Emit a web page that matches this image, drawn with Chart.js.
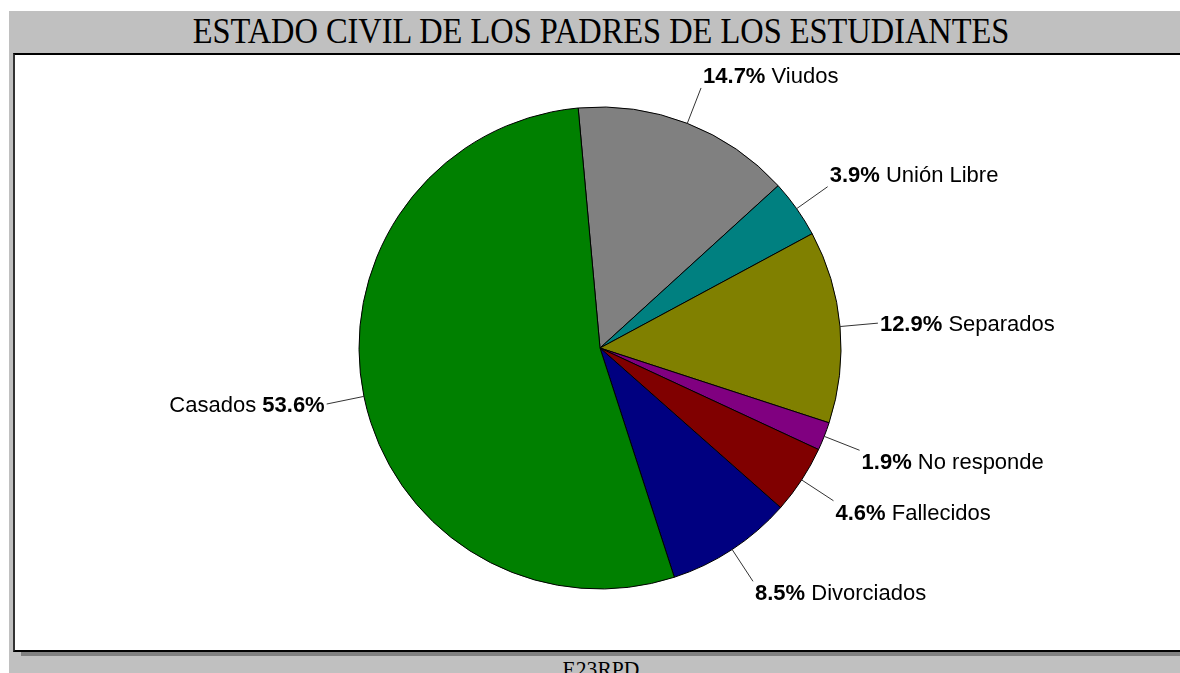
<!DOCTYPE html>
<html>
<head>
<meta charset="utf-8">
<script src="https://cdn.jsdelivr.net/npm/chart.js@4.4.0/dist/chart.umd.min.js"></script>
<style>
    body { margin: 0; width: 1180px; height: 673px; overflow: hidden; background: #fff; position: relative; }
    .panel { position: absolute; left: 9px; top: 11px; width: 1171px; height: 662px; background: #c0c0c0; }
    .title, .footer {
        position: absolute; left: 0; width: 1202px; text-align: center;
        font-family: 'Liberation Serif', 'Times New Roman', serif; color: #000;
        transform: scaleX(0.9); transform-origin: 601px 0; white-space: nowrap;
    }
    .title { top: 10px; font-size: 36px; line-height: 42px; }
    .footer { top: 655px; font-size: 24px; line-height: 28px; }
    .shadow { position: absolute; left: 21px; top: 650px; width: 1170px; height: 6px; background: #808080; }
    .box { position: absolute; left: 13px; top: 53px; width: 1180px; height: 595px; background: #fff; border: 2px solid #000; border-right: none; border-left-color: #333; }
    #pie { position: absolute; left: 0; top: 0; }
</style>
</head>
<body>
<div class="panel"></div>
<div class="title">ESTADO CIVIL DE LOS PADRES DE LOS ESTUDIANTES</div>
<div class="shadow"></div>
<div class="box"></div>
<div class="footer">E23RPD</div>
<canvas id="pie" width="1180" height="673"></canvas>
<script>
// Data, clockwise from the top
const categories = ['Viudos', 'Unión Libre', 'Separados', 'No responde', 'Fallecidos', 'Divorciados', 'Casados'];
const percents = [14.7, 3.9, 12.9, 1.9, 4.6, 8.5, 53.6];
const sliceColors = ['#808080', '#008080', '#808000', '#800080', '#800000', '#000080', '#008000'];

// Draws the leader lines and "xx.x% Name" labels
const sliceLabels = {
    id: 'sliceLabels',
    afterDatasetsDraw(chart) {
        const ctx = chart.ctx;
        const meta = chart.getDatasetMeta(0);
        const fontSize = 22;
        ctx.save();
        meta.data.forEach((arc, i) => {
            const mid = (arc.startAngle + arc.endAngle) / 2;
            const r = arc.outerRadius;
            const x0 = arc.x + Math.cos(mid) * r;
            const y0 = arc.y + Math.sin(mid) * r;
            const x1 = arc.x + Math.cos(mid) * (r + 38);
            const y1 = arc.y + Math.sin(mid) * (r + 38);

            ctx.strokeStyle = '#333';
            ctx.lineWidth = 1;
            ctx.beginPath();
            ctx.moveTo(x0, y0);
            ctx.lineTo(x1, y1);
            ctx.stroke();

            // vertical placement: above the line end on the top half, below on the bottom
            let ty = y1 + 2;
            const s = Math.sin(mid);
            if (s < -0.25) ty = y1 - 11;
            else if (s > 0.25) ty = y1 + 13;

            const pct = percents[i].toFixed(1) + '%';
            const name = categories[i];
            const bold = `bold ${fontSize}px 'Liberation Sans', Arial, sans-serif`;
            const normal = `${fontSize}px 'Liberation Sans', Arial, sans-serif`;
            ctx.fillStyle = '#000';
            ctx.textBaseline = 'middle';
            ctx.textAlign = 'left';

            if (Math.cos(mid) >= 0) {
                let tx = x1 + 2;
                ctx.font = bold;
                ctx.fillText(pct, tx, ty);
                tx += ctx.measureText(pct).width;
                ctx.font = normal;
                ctx.fillText(' ' + name, tx, ty);
            } else {
                ctx.font = bold;
                const wPct = ctx.measureText(pct).width;
                ctx.font = normal;
                const wName = ctx.measureText(name + ' ').width;
                let tx = x1 - 2 - wPct - wName;
                ctx.fillText(name + ' ', tx, ty);
                ctx.font = bold;
                ctx.fillText(pct, tx + wName, ty);
            }
        });
        ctx.restore();
    }
};

new Chart(document.getElementById('pie').getContext('2d'), {
    type: 'pie',
    data: {
        labels: categories,
        datasets: [{
            data: percents,
            backgroundColor: sliceColors,
            borderColor: '#000',
            borderWidth: 1,
            hoverOffset: 0,
            radius: 241
        }]
    },
    options: {
        responsive: false,
        animation: false,
        events: [],
        rotation: -5.2,
        layout: { padding: { left: 20, right: 0, top: 23, bottom: 0 } },
        plugins: {
            legend: { display: false },
            tooltip: { enabled: false }
        }
    },
    plugins: [sliceLabels]
});
</script>
</body>
</html>
